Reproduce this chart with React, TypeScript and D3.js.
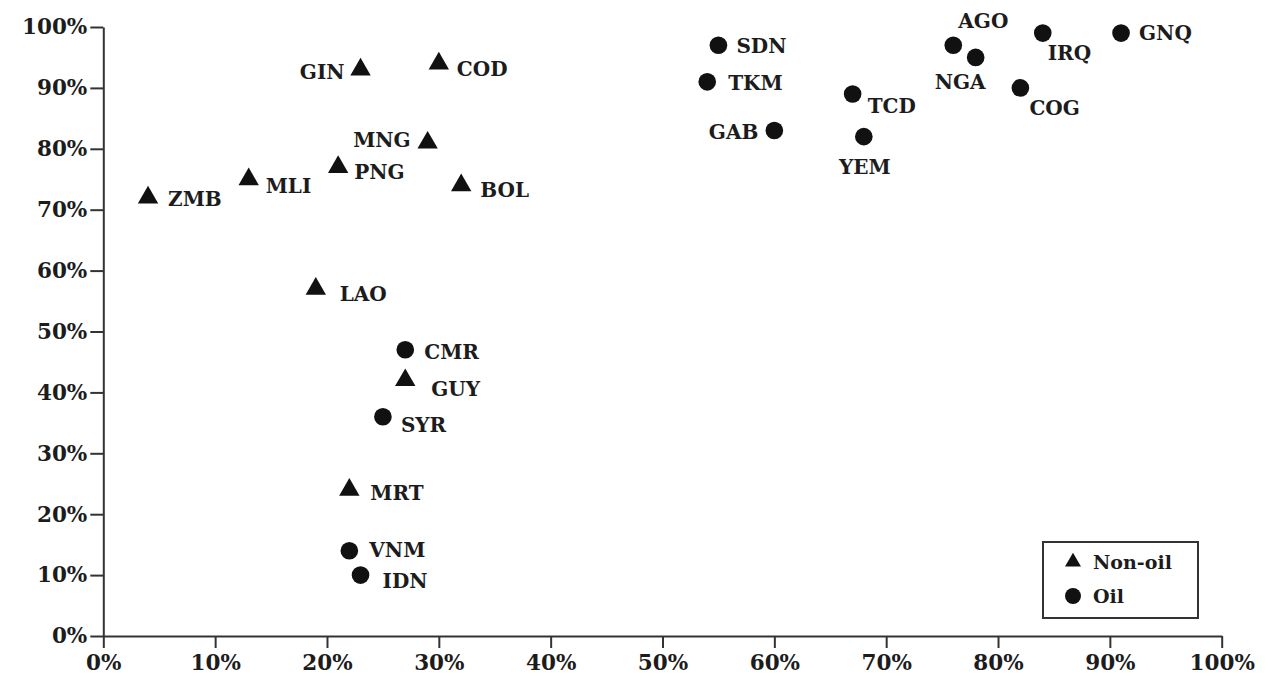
import React, { useEffect, useRef } from "react";
import * as d3 from "d3";

// ---- data ----
const nonOilCodes = ["GIN", "COD", "MNG", "PNG", "MLI", "ZMB", "BOL", "LAO", "GUY", "MRT"];
const nonOilX = [0.23, 0.30, 0.29, 0.21, 0.13, 0.04, 0.32, 0.19, 0.27, 0.22];
const nonOilY = [0.93, 0.94, 0.81, 0.77, 0.75, 0.72, 0.74, 0.57, 0.42, 0.24];

const oilCodes = ["CMR", "SYR", "VNM", "IDN", "SDN", "TKM", "GAB", "TCD", "YEM", "AGO", "NGA", "IRQ", "COG", "GNQ"];
const oilX = [0.27, 0.25, 0.22, 0.23, 0.55, 0.54, 0.60, 0.67, 0.68, 0.76, 0.78, 0.84, 0.82, 0.91];
const oilY = [0.47, 0.36, 0.14, 0.10, 0.97, 0.91, 0.83, 0.89, 0.82, 0.97, 0.95, 0.99, 0.90, 0.99];

const tickValues = [0, 0.1, 0.2, 0.3, 0.4, 0.5, 0.6, 0.7, 0.8, 0.9, 1.0];
const legendLabels = ["Non-oil", "Oil"];

// label placement (layout only): [dx, dy, anchor]
const labelPlacement: Record<string, [number, number, string]> = {
  GIN: [-16, 9, "end"],
  COD: [18, 12, "start"],
  MNG: [-17, 4, "end"],
  PNG: [16, 12, "start"],
  MLI: [17, 14, "start"],
  ZMB: [20, 8, "start"],
  BOL: [19, 12, "start"],
  LAO: [24, 12, "start"],
  GUY: [26, 16, "start"],
  MRT: [21, 10, "start"],
  CMR: [19, 9, "start"],
  SYR: [18, 15, "start"],
  VNM: [20, 6, "start"],
  IDN: [22, 13, "start"],
  SDN: [18, 8, "start"],
  TKM: [21, 8, "start"],
  GAB: [-16, 8, "end"],
  TCD: [15, 19, "start"],
  YEM: [1, 37, "middle"],
  AGO: [5, -17, "start"],
  NGA: [10, 32, "end"],
  IRQ: [5, 27, "start"],
  COG: [9, 27, "start"],
  GNQ: [18, 7, "start"],
};

const W = 1271;
const H = 683;
const FONT = "'DejaVu Serif', 'Liberation Serif', serif";
const INK = "#1c1c1c";

export default function App() {
  const ref = useRef<SVGSVGElement | null>(null);

  useEffect(() => {
    const svg = d3.select(ref.current);
    svg.selectAll("*").remove();

    const x = d3.scaleLinear().domain([0, 1]).range([103.3, 1221.7]);
    const y = d3.scaleLinear().domain([0, 1]).range([636, 27]);
    const fmt = d3.format(".0%");

    const xAxis = svg
      .append("g")
      .attr("transform", `translate(0,${y(0)})`)
      .call(d3.axisBottom(x).tickValues(tickValues).tickFormat(fmt as any).tickSize(12).tickSizeOuter(0).tickPadding(7));
    const yAxis = svg
      .append("g")
      .attr("transform", `translate(${x(0)},0)`)
      .call(d3.axisLeft(y).tickValues(tickValues).tickFormat(fmt as any).tickSize(13).tickSizeOuter(0).tickPadding(3));

    [xAxis, yAxis].forEach((g) => {
      g.select(".domain").attr("stroke", "#333").attr("stroke-width", 2);
      g.selectAll(".tick line").attr("stroke", "#333").attr("stroke-width", 2);
      g.selectAll(".tick text")
        .attr("fill", INK)
        .attr("font-family", FONT)
        .attr("font-weight", "bold")
        .attr("font-size", 21.5);
    });

    const tri = d3.symbol().type(d3.symbolTriangle).size(180);
    const circ = d3.symbol().type(d3.symbolCircle).size(245);

    const nonOil = nonOilCodes.map((c, i) => ({ code: c, x: nonOilX[i], y: nonOilY[i] }));
    const oil = oilCodes.map((c, i) => ({ code: c, x: oilX[i], y: oilY[i] }));

    const drawGroup = (data: { code: string; x: number; y: number }[], sym: any) => {
      const g = svg.append("g");
      g.selectAll("path")
        .data(data)
        .join("path")
        .attr("d", sym)
        .attr("transform", (d) => `translate(${x(d.x)},${y(d.y)})`)
        .attr("fill", "#111");
      g.selectAll("text")
        .data(data)
        .join("text")
        .attr("x", (d) => x(d.x) + labelPlacement[d.code][0])
        .attr("y", (d) => y(d.y) + labelPlacement[d.code][1])
        .attr("text-anchor", (d) => labelPlacement[d.code][2])
        .attr("font-family", FONT)
        .attr("font-weight", "bold")
        .attr("font-size", 20)
        .attr("fill", INK)
        .text((d) => d.code);
    };
    drawGroup(nonOil, tri);
    drawGroup(oil, circ);

    // legend
    const lg = svg.append("g").attr("transform", "translate(1043,542)");
    lg.append("rect").attr("width", 155).attr("height", 76).attr("fill", "white").attr("stroke", "#333").attr("stroke-width", 2);
    const legSyms = [d3.symbol().type(d3.symbolTriangle).size(110), d3.symbol().type(d3.symbolCircle).size(200)];
    legendLabels.forEach((lab, i) => {
      lg.append("path").attr("d", legSyms[i] as any).attr("transform", `translate(30,${20 + i * 34})`).attr("fill", "#111");
      lg.append("text")
        .attr("x", 50)
        .attr("y", 20 + i * 34 + 7)
        .attr("font-family", FONT)
        .attr("font-weight", "bold")
        .attr("font-size", 19)
        .attr("fill", INK)
        .text(lab);
    });
  }, []);

  return (
    <svg
      ref={ref}
      width={W}
      height={H}
      style={{ position: "absolute", left: 0, top: 0, background: "white" }}
    />
  );
}
